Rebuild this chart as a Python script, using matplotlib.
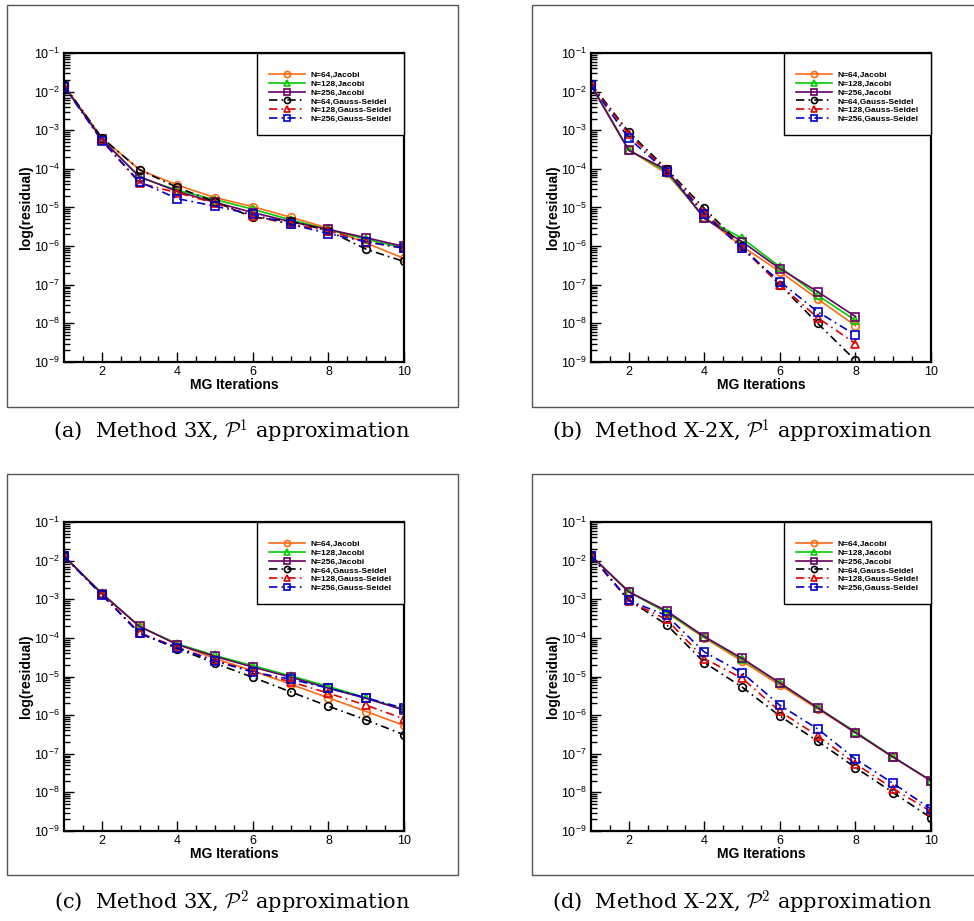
import math
import matplotlib
matplotlib.use("Agg")
import matplotlib.pyplot as plt
from matplotlib.ticker import FixedLocator, FuncFormatter, LogLocator, NullFormatter
from matplotlib.patches import Rectangle

plt.rcParams['font.family'] = ['Liberation Sans', 'DejaVu Sans']
plt.rcParams['mathtext.fontset'] = 'custom'
plt.rcParams['mathtext.rm'] = 'Liberation Sans'

labels = ["N=64,Jacobi", "N=128,Jacobi", "N=256,Jacobi",
          "N=64,Gauss-Seidel", "N=128,Gauss-Seidel", "N=256,Gauss-Seidel"]
colors = ["#FF6A13", "#00CC00", "#660066", "#000000", "#E00000", "#0000CC"]
markers = ["o", "^", "s", "o", "^", "s"]
styles = ["-", "-", "-", (0, (5, 2.5, 1, 2.5)), (0, (5, 2.5, 1, 2.5)), (0, (5, 2.5, 1, 2.5))]

iters10 = [1, 2, 3, 4, 5, 6, 7, 8, 9, 10]
iters8 = [1, 2, 3, 4, 5, 6, 7, 8]

# (a) Method 3X, P1
a_j64 = [1.46e-2, 6.4e-4, 9.5e-5, 3.8e-5, 1.8e-5, 1.05e-5, 5.6e-6, 2.9e-6, 1.2e-6, 4.8e-7]
a_j128 = [1.4e-2, 6.0e-4, 6.0e-5, 2.8e-5, 1.6e-5, 9.0e-6, 4.8e-6, 2.7e-6, 1.5e-6, 9.0e-7]
a_j256 = [1.4e-2, 5.8e-4, 6.3e-5, 2.6e-5, 1.36e-5, 7.4e-6, 4.3e-6, 2.7e-6, 1.65e-6, 9.8e-7]
a_g64 = [1.5e-2, 6.4e-4, 9.5e-5, 3.3e-5, 1.4e-5, 5.6e-6, 4.4e-6, 2.5e-6, 8.3e-7, 4.0e-7]
a_g128 = [1.4e-2, 5.5e-4, 4.3e-5, 2.4e-5, 1.3e-5, 6.0e-6, 3.7e-6, 2.5e-6, 1.3e-6, 8.8e-7]
a_g256 = [1.35e-2, 5.4e-4, 4.6e-5, 1.7e-5, 1.08e-5, 6.6e-6, 3.7e-6, 2.1e-6, 1.3e-6, 8.8e-7]

# (b) Method X-2X, P1
b_j64 = [1.55e-2, 3.1e-4, 7.6e-5, 5.7e-6, 9.8e-7, 2.2e-7, 4.3e-8, 8.7e-9]
b_j128 = [1.5e-2, 3.1e-4, 8.5e-5, 5.3e-6, 1.6e-6, 2.9e-7, 5.3e-8, 1.2e-8]
b_j256 = [1.45e-2, 3.0e-4, 9.5e-5, 5.2e-6, 1.3e-6, 2.6e-7, 6.6e-8, 1.5e-8]
b_g64 = [1.6e-2, 9.0e-4, 1.0e-4, 9.5e-6, 1.0e-6, 1.0e-7, 1.0e-8, 1.1e-9]
b_g128 = [1.55e-2, 7.8e-4, 9.0e-5, 7.8e-6, 9.0e-7, 1.0e-7, 1.4e-8, 3.0e-9]
b_g256 = [1.5e-2, 6.2e-4, 8.5e-5, 6.9e-6, 8.7e-7, 1.2e-7, 2.0e-8, 5.0e-9]

# (c) Method 3X, P2
c_j64 = [1.3e-2, 1.4e-3, 1.96e-4, 6.9e-5, 2.9e-5, 1.4e-5, 6.3e-6, 2.8e-6, 1.24e-6, 5.4e-7]
c_j128 = [1.3e-2, 1.45e-3, 1.96e-4, 7.0e-5, 3.5e-5, 1.9e-5, 1.04e-5, 5.5e-6, 2.8e-6, 1.4e-6]
c_j256 = [1.3e-2, 1.4e-3, 1.98e-4, 6.7e-5, 3.3e-5, 1.75e-5, 9.6e-6, 5.0e-6, 2.7e-6, 1.35e-6]
c_g64 = [1.3e-2, 1.35e-3, 1.3e-4, 5.3e-5, 2.2e-5, 9.5e-6, 4.0e-6, 1.7e-6, 7.5e-7, 3.1e-7]
c_g128 = [1.3e-2, 1.35e-3, 1.35e-4, 5.7e-5, 2.6e-5, 1.35e-5, 7.3e-6, 3.7e-6, 1.8e-6, 8.0e-7]
c_g256 = [1.3e-2, 1.3e-3, 1.3e-4, 5.5e-5, 2.5e-5, 1.3e-5, 8.5e-6, 5.0e-6, 2.8e-6, 1.5e-6]

# (d) Method X-2X, P2
d_j64 = [1.35e-2, 1.6e-3, 4.5e-4, 1.0e-4, 2.5e-5, 6.0e-6, 1.45e-6, 3.5e-7, 8.0e-8, 2.0e-8]
d_j128 = [1.35e-2, 1.55e-3, 4.6e-4, 1.05e-4, 2.8e-5, 6.7e-6, 1.55e-6, 3.7e-7, 8.2e-8, 2.0e-8]
d_j256 = [1.35e-2, 1.55e-3, 5.0e-4, 1.08e-4, 2.95e-5, 6.8e-6, 1.55e-6, 3.5e-7, 8.2e-8, 2.0e-8]
d_g64 = [1.35e-2, 9.5e-4, 2.2e-4, 2.3e-5, 5.3e-6, 9.5e-7, 2.1e-7, 4.4e-8, 9.8e-9, 2.2e-9]
d_g128 = [1.35e-2, 9.0e-4, 3.0e-4, 2.9e-5, 9.0e-6, 1.25e-6, 2.9e-7, 5.5e-8, 1.25e-8, 3.2e-9]
d_g256 = [1.35e-2, 9.3e-4, 3.8e-4, 4.3e-5, 1.25e-5, 1.8e-6, 4.4e-7, 7.3e-8, 1.7e-8, 3.7e-9]

panels = [
    (iters10, [a_j64, a_j128, a_j256, a_g64, a_g128, a_g256], r"(a)  Method 3X, $\mathcal{P}^1$ approximation"),
    (iters8, [b_j64, b_j128, b_j256, b_g64, b_g128, b_g256], r"(b)  Method X-2X, $\mathcal{P}^1$ approximation"),
    (iters10, [c_j64, c_j128, c_j256, c_g64, c_g128, c_g256], r"(c)  Method 3X, $\mathcal{P}^2$ approximation"),
    (iters10, [d_j64, d_j128, d_j256, d_g64, d_g128, d_g256], r"(d)  Method X-2X, $\mathcal{P}^2$ approximation"),
]

W, H = 974, 921
fig = plt.figure(figsize=(W / 100, H / 100), dpi=100)

# pixel layouts: axes left, top, right, bottom ; frame box ; caption center
axes_px = [(64, 53, 404, 362), (591, 53, 931, 362), (64, 522, 404, 831), (591, 522, 931, 831)]
box_px = [(7, 5, 458, 407), (532, 5, 983, 407), (7, 474, 458, 875), (532, 474, 983, 875)]
cap_px = [(232, 432), (742, 432), (232, 903), (742, 903)]


def fmt(v, pos):
    e = int(round(math.log10(v)))
    return r"$\mathregular{10^{%d}}$" % e


for (x, series, cap), (l, t, r, b), (bl, bt, br, bb), (cx, cy) in zip(panels, axes_px, box_px, cap_px):
    fig.add_artist(Rectangle((bl / W, 1 - bb / H), (br - bl) / W, (bb - bt) / H,
                             transform=fig.transFigure, fill=False, edgecolor="#555555", lw=1.0))
    ax = fig.add_axes([l / W, 1 - b / H, (r - l) / W, (b - t) / H])
    for ys, c, m, ls, lab in zip(series, colors, markers, styles, labels):
        ax.plot(x, ys, color=c, marker=m, linestyle=ls, lw=1.2, markersize=5.5,
                markerfacecolor="none", markeredgecolor=c, markeredgewidth=1.2, label=lab)
    ax.set_yscale("log")
    ax.set_xlim(1, 10)
    ax.set_ylim(1e-9, 1e-1)
    ax.xaxis.set_major_locator(FixedLocator([2, 4, 6, 8, 10]))
    ax.xaxis.set_minor_locator(FixedLocator([1.5, 2.5, 3, 3.5, 4.5, 5, 5.5, 6.5, 7, 7.5, 8.5, 9, 9.5]))
    ax.yaxis.set_major_locator(LogLocator(base=10, numticks=20))
    ax.yaxis.set_minor_locator(LogLocator(base=10, subs=range(2, 10), numticks=20))
    ax.yaxis.set_major_formatter(FuncFormatter(fmt))
    ax.yaxis.set_minor_formatter(NullFormatter())
    ax.tick_params(which="both", direction="in", top=False, right=False, labelsize=9, width=1.0)
    ax.tick_params(which="major", length=7, pad=3)
    ax.tick_params(which="minor", length=4.5)
    for s in ax.spines.values():
        s.set_linewidth(1.6)
    ax.set_xlabel("MG Iterations", fontsize=10, fontweight="bold", labelpad=0)
    ax.set_ylabel("log(residual)", fontsize=10, fontweight="bold", labelpad=0.5)
    leg = ax.legend(loc="upper right", bbox_to_anchor=(1.0, 1.0), borderaxespad=0.0,
                    prop={"size": 6.0, "weight": "bold"}, frameon=True, fancybox=False,
                    edgecolor="black", framealpha=1.0, handlelength=4.3, handletextpad=0.7,
                    borderpad=1.45, labelspacing=0.12, markerscale=0.8,
                    title=" ", title_fontsize=3.5)
    leg.get_frame().set_linewidth(1.0)
    fig.text(cx / W, 1 - cy / H, cap, ha="center", va="center", fontsize=15,
             family="DejaVu Serif", math_fontfamily="cm")

fig.savefig("out.png", dpi=100)
